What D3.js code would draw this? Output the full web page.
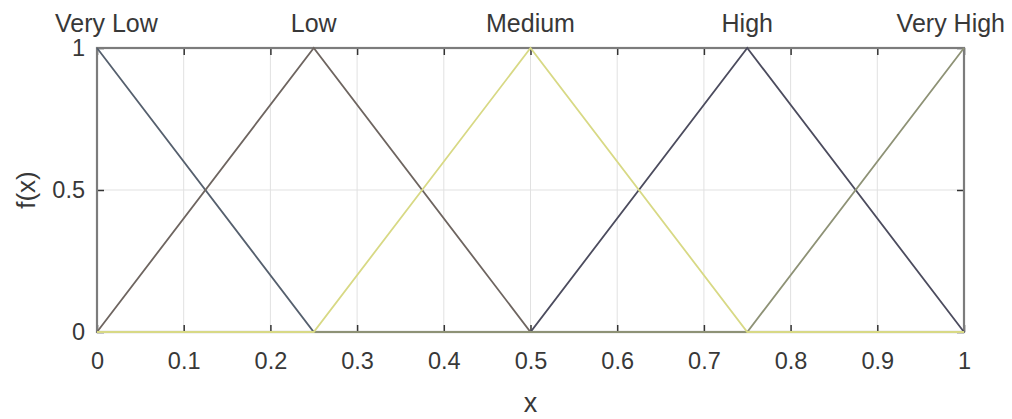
<!DOCTYPE html>
<html>
<head>
<meta charset="utf-8">
<script src="https://cdn.jsdelivr.net/npm/d3@7"></script>
<style>
  html, body { margin: 0; padding: 0; background: #fff; }
  svg { display: block; }
  text { font-family: "Liberation Sans", Arial, sans-serif; fill: #383838; }
</style>
</head>
<body>
<svg id="chart" width="1012" height="419"></svg>
<script>
// Triangular membership functions on [0, 1], sampled at their breakpoints
const knots = [0, 0.25, 0.5, 0.75, 1];
const setNames = ["Very Low", "Low", "Medium", "High", "Very High"];
const setPeaks = [0, 0.25, 0.5, 0.75, 1];
const veryLowMu  = [1, 0, 0, 0, 0];
const lowMu      = [0, 1, 0, 0, 0];
const mediumMu   = [0, 0, 1, 0, 0];
const highMu     = [0, 0, 0, 1, 0];
const veryHighMu = [0, 0, 0, 0, 1];
const xTicks = [0, 0.1, 0.2, 0.3, 0.4, 0.5, 0.6, 0.7, 0.8, 0.9, 1];
const yTicks = [0, 0.5, 1];
const xLabel = "x";
const yLabel = "f(x)";

const seriesColors = {
  "Very Low": "#56606e",
  "Low": "#6e6560",
  "Medium": "#d8d985",
  "High": "#4c4c5e",
  "Very High": "#8e9276"
};
// drawing order: the pale curve goes last so its zero stretch stays on top
const drawOrder = ["Very Low", "Low", "High", "Very High", "Medium"];
const seriesValues = {
  "Very Low": veryLowMu, "Low": lowMu, "Medium": mediumMu,
  "High": highMu, "Very High": veryHighMu
};

const svg = d3.select("#chart");
const plot = { left: 97, right: 964, top: 48, bottom: 332 };

const x = d3.scaleLinear().domain([0, 1]).range([plot.left, plot.right]);
const y = d3.scaleLinear().domain([0, 1]).range([plot.bottom, plot.top]);

// grid
const grid = svg.append("g");
grid.selectAll("line.gx").data(xTicks.slice(1, -1)).join("line")
  .attr("x1", d => x(d)).attr("x2", d => x(d))
  .attr("y1", plot.top).attr("y2", plot.bottom)
  .attr("stroke", "#e1e1e1").attr("stroke-width", 1);
grid.selectAll("line.gy").data(yTicks.slice(1, -1)).join("line")
  .attr("x1", plot.left).attr("x2", plot.right)
  .attr("y1", d => y(d)).attr("y2", d => y(d))
  .attr("stroke", "#e1e1e1").attr("stroke-width", 1);

// axes with inward ticks on all four sides
const tickLen = 7;
const fmt = d => d3.format("~g")(d);
function styleAxis(g) {
  g.select(".domain").remove();
  g.selectAll(".tick line").attr("stroke", "#333").attr("stroke-width", 1.5);
  g.selectAll(".tick text").attr("fill", "#3c3c3c")
    .style("font-family", '"Liberation Sans", Arial, sans-serif')
    .style("font-size", "23.5px");
}
svg.append("g").attr("transform", `translate(0,${plot.bottom})`)
  .call(d3.axisBottom(x).tickValues(xTicks).tickSize(-tickLen).tickPadding(tickLen + 13).tickFormat(fmt))
  .call(styleAxis);
svg.append("g").attr("transform", `translate(0,${plot.top})`)
  .call(d3.axisTop(x).tickValues(xTicks).tickSize(-tickLen).tickFormat(""))
  .call(styleAxis);
svg.append("g").attr("transform", `translate(${plot.left},0)`)
  .call(d3.axisLeft(y).tickValues(yTicks).tickSize(-tickLen).tickPadding(tickLen + 5).tickFormat(fmt))
  .call(styleAxis);
svg.append("g").attr("transform", `translate(${plot.right},0)`)
  .call(d3.axisRight(y).tickValues(yTicks).tickSize(-tickLen).tickFormat(""))
  .call(styleAxis);

// box
svg.append("rect")
  .attr("x", plot.left).attr("y", plot.top)
  .attr("width", plot.right - plot.left).attr("height", plot.bottom - plot.top)
  .attr("fill", "none").attr("stroke", "#7c7c7c").attr("stroke-width", 2.2);

// membership curves
const line = d3.line().x(d => x(d[0])).y(d => y(d[1]));
svg.append("g").selectAll("path").data(drawOrder).join("path")
  .attr("d", name => line(knots.map((k, i) => [k, seriesValues[name][i]])))
  .attr("fill", "none")
  .attr("stroke", name => seriesColors[name])
  .attr("stroke-width", 1.8)
  .attr("stroke-linejoin", "miter");

// set names above each peak, kept inside the figure
const labels = svg.append("g").selectAll("text").data(setNames).join("text")
  .attr("x", (d, i) => x(setPeaks[i]))
  .attr("y", 32)
  .attr("text-anchor", "middle")
  .style("font-size", "25px")
  .attr("fill", "#2e2e2e")
  .text(d => d);
const minX = 55, maxX = 1005;
labels.each(function () {
  const b = this.getBBox();
  const cx = +this.getAttribute("x");
  if (b.x < minX) this.setAttribute("x", cx + (minX - b.x));
  else if (b.x + b.width > maxX) this.setAttribute("x", cx - (b.x + b.width - maxX));
});

// axis titles
svg.append("text")
  .attr("x", (plot.left + plot.right) / 2).attr("y", 412)
  .attr("text-anchor", "middle")
  .style("font-size", "27px")
  .text(xLabel);
svg.append("text")
  .attr("transform", `translate(35,${(plot.top + plot.bottom) / 2}) rotate(-90)`)
  .attr("text-anchor", "middle")
  .style("font-size", "26px")
  .text(yLabel);
</script>
</body>
</html>
